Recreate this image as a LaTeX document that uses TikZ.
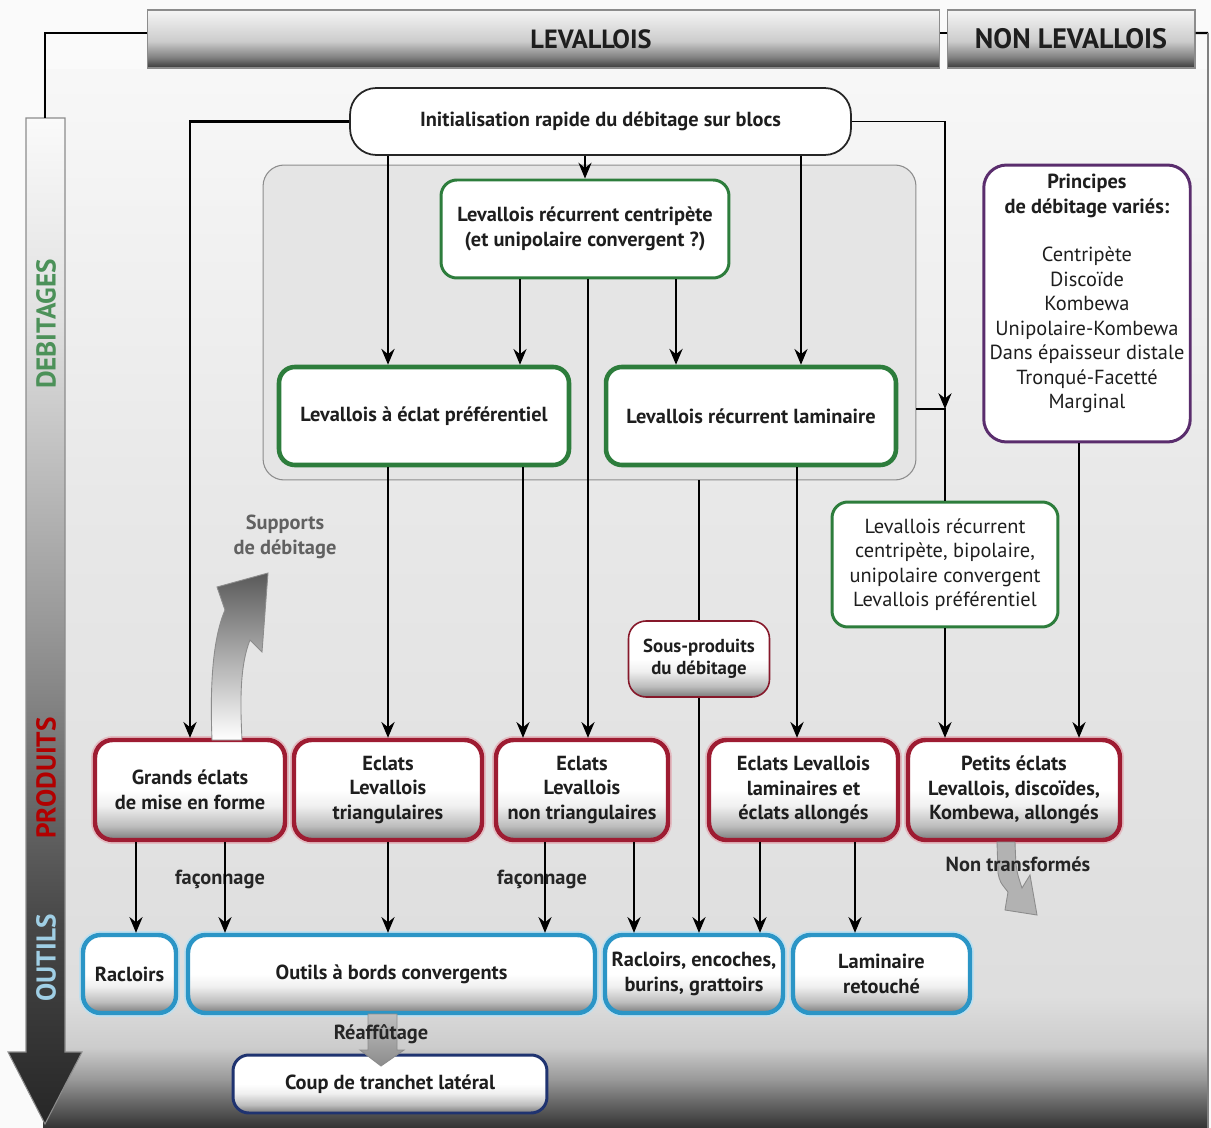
\documentclass[tikz,border=0pt]{standalone}
\usepackage{fontspec}
\setmainfont{PT Sans}
\usepackage{tikz}
\usetikzlibrary{calc,arrows.meta,positioning}
\usepackage{xcolor}
\definecolor{prodred}{HTML}{9E1C32}
\definecolor{toolblue}{HTML}{2B95C6}
\definecolor{debgreen}{HTML}{2D7D3C}
\definecolor{nonlevpurple}{HTML}{5A2D6D}
\definecolor{tranchetnavy}{HTML}{1F3370}
\definecolor{inktext}{HTML}{1E1E1E}

\newcommand{\boxfont}{\fontsize{11.6}{13.9}\selectfont}

% vertical fills (inner 25bp..75bp band is the path)
\pgfdeclareverticalshading{headshade}{100bp}{color(0bp)=(black!78); color(25bp)=(black!78); color(34bp)=(black!50); color(48bp)=(black!20); color(75bp)=(black!4); color(100bp)=(black!4)}
\pgfdeclareverticalshading{boxshade}{100bp}{color(0bp)=(black!52); color(25bp)=(black!52); color(32bp)=(black!26); color(42bp)=(black!6); color(50bp)=(white); color(100bp)=(white)}
\pgfdeclareverticalshading{panelshade}{100bp}{color(0bp)=(black!80); color(25bp)=(black!80); color(26.3bp)=(black!58); color(27.3bp)=(black!40); color(28.8bp)=(black!20); color(31.2bp)=(black!13); color(54.8bp)=(black!9); color(75bp)=(black!3); color(100bp)=(black!3)}
\pgfdeclareverticalshading{timeshade}{100bp}{color(0bp)=(black!85); color(25bp)=(black!85); color(35bp)=(black!72); color(50bp)=(black!40); color(65bp)=(black!12); color(75bp)=(black!2); color(100bp)=(black!2)}
\pgfdeclareverticalshading{supportshade}{100bp}{color(0bp)=(white); color(25bp)=(white); color(75bp)=(black!65); color(100bp)=(black!65)}

\begin{document}
\begin{tikzpicture}[x=0.02cm, y=-0.02cm,
  headbar/.style={rectangle, draw=black!45, line width=0.6pt, shading=headshade,
    minimum height=1.16cm, font=\fontsize{16}{18}\selectfont\bfseries, text=inktext},
  sidetag/.style={rotate=90, font=\fontsize{15.5}{17}\selectfont\bfseries},
  initbox/.style={rectangle, rounded corners=15pt, draw=black!85, line width=1pt, fill=white,
    minimum width=10.02cm, minimum height=1.34cm, font=\boxfont\bfseries, text=inktext},
  groupbox/.style={rectangle, rounded corners=12pt, draw=black!45, line width=0.6pt, fill=black!10},
  debbox/.style={rectangle, rounded corners=9pt, draw=debgreen, line width=2.6pt, fill=white,
    minimum width=5.8cm, minimum height=1.96cm, align=center, font=\boxfont\bfseries, text=inktext},
  debthin/.style={debbox, line width=1.7pt},
  nonlevbox/.style={rectangle, rounded corners=13pt, draw=nonlevpurple, line width=1.7pt, fill=white,
    align=center, font=\boxfont, text=inktext},
  prodbox/.style={rectangle, rounded corners=10pt, draw=prodred, line width=2.5pt, shading=boxshade,
    preaction={draw=prodred!30, line width=4.5pt}, minimum height=2cm, align=center,
    font=\boxfont\bfseries, text=inktext},
  subbox/.style={rectangle, rounded corners=10pt, draw=prodred!85!black, line width=0.9pt,
    shading=boxshade, align=center, font=\fontsize{10.7}{12.5}\selectfont\bfseries, text=inktext},
  toolbox/.style={rectangle, rounded corners=10pt, draw=toolblue, line width=2.5pt, shading=boxshade,
    preaction={draw=toolblue!30, line width=4.5pt}, minimum height=1.56cm, align=center,
    font=\boxfont\bfseries, text=inktext},
  tranchetbox/.style={rectangle, rounded corners=9pt, draw=tranchetnavy, line width=1.7pt,
    shading=boxshade, minimum width=6.28cm, minimum height=1.16cm, font=\boxfont\bfseries, text=inktext},
  tag/.style={font=\boxfont\bfseries, text=black!85},
  note/.style={align=center, font=\boxfont\bfseries, text=black!62},
  flow/.style={-{Stealth[length=9pt,width=7.5pt,inset=3pt]}, line width=0.7pt},
  flowbold/.style={flow, line width=1.4pt},
  link/.style={line width=0.7pt},
  linkbold/.style={line width=1.4pt}
]
  \useasboundingbox (0,0) rectangle (1211,1128);
  \fill[black!2] (0,0) rectangle (1211,1128);
  \shade[shading=panelshade] (43,70) rectangle (1208,1128);

  % time axis on the left
  \shade[shading=timeshade, draw=black!45, line width=0.6pt]
    (26,118) -- (65,118) -- (65,1052) -- (82,1052) -- (45,1124) -- (8,1052) -- (26,1052) -- cycle;
  \coordinate (axtop) at (45,118);
  \node[sidetag, text=debgreen!85!white] (debtag) at (46,324) {DEBITAGES};
  \node[sidetag, text=red!70!black] (prodtag) at (46,778) {PRODUITS};
  \node[sidetag, text=toolblue!45!white] (tooltag) at (46,958) {OUTILS};

  % headers
  \node[headbar, minimum width=15.86cm] (levhead) at (543.5,39) {};
  \node[font=\fontsize{15}{17}\selectfont\bfseries, text=inktext] (levtext) at (591,39) {LEVALLOIS};
  \node[headbar, minimum width=4.96cm] (nonlevhead) at (1071,39) {NON LEVALLOIS};
  \coordinate (rimtop) at (1208,33);
  \draw[line width=1.2pt] (axtop) |- ([yshift=0.12cm]levhead.west);
  \draw[line width=1.2pt] ([yshift=0.12cm]levhead.east) -- ([yshift=0.12cm]nonlevhead.west);
  \draw[line width=1.2pt] ([yshift=0.12cm]nonlevhead.east) -- (rimtop);
  \draw[black!50, line width=0.6pt] (rimtop) -- (1208,1128);

  % debitages
  \node[groupbox, minimum width=13.06cm, minimum height=6.3cm] (group) at (589.5,322.5) {};
  \node[initbox] (init) at (600.5,121.5) {Initialisation rapide du débitage sur blocs};
  \node[debthin, minimum width=5.76cm] (recent) at (585,229)
    {Levallois récurrent centripète\\(et unipolaire convergent ?)};
  \node[debbox] (pref) at (424,416) {Levallois à éclat préférentiel};
  \node[debbox] (lam) at (751,416) {Levallois récurrent laminaire};
  \node[debthin, minimum width=4.52cm, minimum height=2.5cm, font=\boxfont] (recvar) at (945,564.5)
    {Levallois récurrent\\centripète, bipolaire,\\unipolaire convergent\\Levallois préférentiel};
  \node[nonlevbox, minimum width=4.12cm, minimum height=5.54cm] (principes) at (1087,303.5)
    {\textbf{Principes}\\\textbf{de débitage variés:}\\[13.9pt]Centripète\\Discoïde\\Kombewa\\
     Unipolaire-Kombewa\\Dans épaisseur distale\\Tronqué-Facetté\\Marginal\\~};
  \node[subbox, minimum width=2.82cm, minimum height=1.52cm] (sousprod) at (699,659)
    {Sous-produits\\du débitage};

  % produits
  \node[prodbox, minimum width=3.8cm] (grands) at (190,790) {Grands éclats\\de mise en forme};
  \node[prodbox, minimum width=3.76cm] (tri) at (388,790) {Eclats\\Levallois\\triangulaires};
  \node[prodbox, minimum width=3.44cm] (nontri) at (582,790) {Eclats\\Levallois\\non triangulaires};
  \node[prodbox, minimum width=3.78cm] (lamin) at (803.5,790)
    {Eclats Levallois\\laminaires et\\éclats allongés};
  \node[prodbox, minimum width=4.24cm] (petits) at (1014,790)
    {Petits éclats\\Levallois, discoïdes,\\Kombewa, allongés};

  % outils
  \node[toolbox, minimum width=1.86cm] (racl) at (129.5,974) {Racloirs};
  \node[toolbox, minimum width=8.14cm] (bords) at (391.5,974) {Outils à bords convergents};
  \node[toolbox, minimum width=3.56cm] (raclenc) at (694,974) {Racloirs, encoches,\\burins, grattoirs};
  \node[toolbox, minimum width=3.54cm] (lamret) at (881.5,974) {Laminaire\\retouché};
  \node[tranchetbox] (coup) at (390,1084) {Coup de tranchet latéral};

  % labels on the links
  \node[note] (supports) at (285,537) {Supports\\de débitage};
  \node[tag] (fac1) at (220,879) {façonnage};
  \node[tag] (fac2) at (542,879) {façonnage};

  % big grey arrows
  \shade[shading=supportshade, draw=black!45, line width=0.5pt]
    (212,740) .. controls (210,690) and (212,640) .. (225,610) -- (217,587) -- (268,573)
    -- (262,652) -- (250,640) .. controls (240,665) and (240,700) .. (242,740) -- cycle;
  \fill[black!30, draw=black!45, line width=0.5pt]
    (997,842) -- (998,873) .. controls (1000,882) .. (1008,892) -- (1005,910) -- (1037,915)
    -- (1030,875) -- (1022,888) .. controls (1016,870) .. (1015,842) -- cycle;
  \shade[top color=black!25, bottom color=black!45, draw=black!45, line width=0.5pt]
    (368,1014) -- (368,1050) -- (360,1050) -- (381,1066) -- (404,1050) -- (397,1050) -- (397,1014) -- cycle;
  \node[tag] (nontrans) at (1018,864) {Non transformés};
  \node[tag] (reaff) at (381,1034) {Réaffûtage};

  % column positions
  \coordinate (x136) at (136,0);
  \coordinate (x225) at (225,0);
  \coordinate (x520) at (520,0);
  \coordinate (x523) at (523,0);
  \coordinate (x545) at (545,0);
  \coordinate (x588) at (588,0);
  \coordinate (x634) at (634,0);
  \coordinate (x676) at (676,0);
  \coordinate (x760) at (760,0);
  \coordinate (x797) at (797,0);
  \coordinate (x801) at (801,0);
  \coordinate (x855) at (855,0);
  \coordinate (x1079) at (1079,0);
  \coordinate (join) at (945,409);

  % links
  \draw[flowbold] (init.west) -| (grands.north);
  \draw[flowbold] (init.south -| tri) -- (pref.north -| tri);
  \draw[flowbold] (pref.south -| tri) -- (tri.north);
  \draw[flow] (init.south -| recent) -- (recent.north);
  \draw[flow] (recent.south -| x520) -- (pref.north -| x520);
  \draw[flow] (pref.south -| x523) -- (nontri.north -| x523);
  \draw[flow] (recent.south -| x588) -- (nontri.north -| x588);
  \draw[flowbold] (recent.south -| x676) -- (lam.north -| x676);
  \draw[flow] (init.south -| x801) -- (lam.north -| x801);
  \draw[flowbold] (lam.south -| x797) -- (lamin.north -| x797);
  \draw[flow] (init.east) -| (join);
  \draw[link] (group.east |- join) -- (join) -- (recvar.north -| join);
  \draw[flow] (recvar.south -| join) -- (petits.north -| join);
  \draw[flow] (principes.south -| x1079) -- (petits.north -| x1079);
  \draw[link] (group.south -| sousprod) -- (sousprod.north);
  \draw[flow] (sousprod.south) -- (raclenc.north -| sousprod);

  \draw[flow] (grands.south -| x136) -- (racl.north -| x136);
  \draw[flow] (grands.south -| x225) -- (bords.north -| x225);
  \draw[flow] (tri.south) -- (bords.north -| tri);
  \draw[flow] (nontri.south -| x545) -- (bords.north -| x545);
  \draw[flow] (nontri.south -| x634) -- (raclenc.north -| x634);
  \draw[flow] (lamin.south -| x760) -- (raclenc.north -| x760);
  \draw[flow] (lamin.south -| x855) -- (lamret.north -| x855);
\end{tikzpicture}
\end{document}
